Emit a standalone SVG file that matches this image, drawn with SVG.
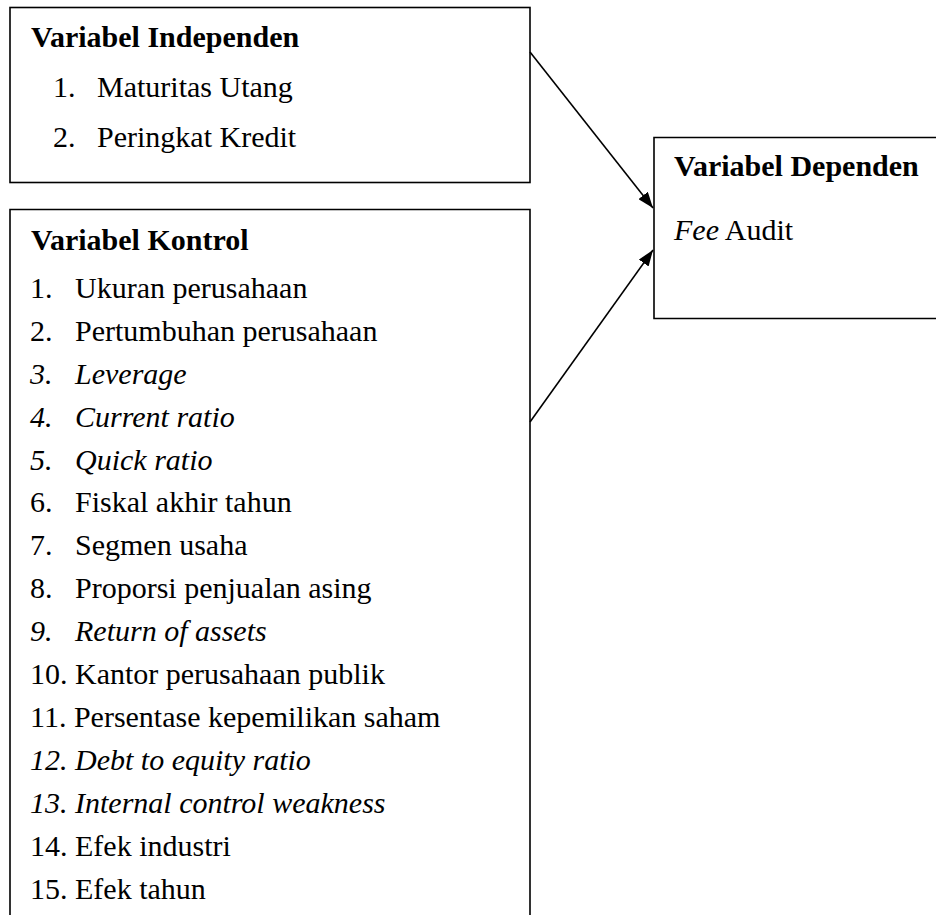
<svg xmlns="http://www.w3.org/2000/svg" width="936" height="915" viewBox="0 0 936 915">
<defs>
<style>
.box{fill:none;stroke:#000;stroke-width:1.6}
.t{font-family:"Liberation Serif","Times New Roman",serif;font-size:30px;fill:#000}
.b{font-weight:bold}
.i{font-style:italic}
.conn{stroke:#000;stroke-width:1.6;fill:none}
</style>
<marker id="ah" viewBox="0 0 16 12" refX="16" refY="6" markerWidth="16" markerHeight="12" markerUnits="userSpaceOnUse" orient="auto">
<path d="M0,0 L16,6 L0,12 Z" fill="#000"/>
</marker>
</defs>
<rect width="936" height="915" fill="#fff"/>
<g id="independen">
<rect class="box" x="10" y="7.5" width="520" height="175"/>
<text class="t b" x="31" y="47">Variabel Independen</text>
<text class="t" x="53" y="97">1.</text><text class="t" x="97" y="97">Maturitas Utang</text>
<text class="t" x="53" y="147">2.</text><text class="t" x="97" y="147">Peringkat Kredit</text>
</g>
<g id="kontrol">
<path class="box" d="M10,925 V209.5 H530 V925"/>
<text class="t b" x="31" y="250">Variabel Kontrol</text>
<text class="t" x="30" y="298">1.</text><text class="t" x="75" y="298">Ukuran perusahaan</text>
<text class="t" x="30" y="341">2.</text><text class="t" x="75" y="341">Pertumbuhan perusahaan</text>
<text class="t i" x="30" y="384">3.</text><text class="t i" x="75" y="384">Leverage</text>
<text class="t i" x="30" y="427">4.</text><text class="t i" x="75" y="427">Current ratio</text>
<text class="t i" x="30" y="470">5.</text><text class="t i" x="75" y="470">Quick ratio</text>
<text class="t" x="30" y="512">6.</text><text class="t" x="75" y="512">Fiskal akhir tahun</text>
<text class="t" x="30" y="555">7.</text><text class="t" x="75" y="555">Segmen usaha</text>
<text class="t" x="30" y="598">8.</text><text class="t" x="75" y="598">Proporsi penjualan asing</text>
<text class="t i" x="30" y="641">9.</text><text class="t i" x="75" y="641">Return of assets</text>
<text class="t" x="30" y="684">10. Kantor perusahaan publik</text>
<text class="t" x="30" y="727">11. Persentase kepemilikan saham</text>
<text class="t i" x="30" y="770">12. Debt to equity ratio</text>
<text class="t i" x="30" y="813">13. Internal control weakness</text>
<text class="t" x="30" y="856">14. Efek industri</text>
<text class="t" x="30" y="899">15. Efek tahun</text>
</g>
<g id="dependen">
<path class="box" d="M940,137.5 H654 V318.5 H940"/>
<text class="t b" x="674" y="176">Variabel Dependen</text>
<text class="t" x="674" y="240"><tspan class="i">Fee</tspan> Audit</text>
</g>
<g id="connectors">
<line class="conn" x1="530" y1="52" x2="653" y2="208" marker-end="url(#ah)"/>
<line class="conn" x1="530" y1="422" x2="653" y2="250" marker-end="url(#ah)"/>
</g>
</svg>
